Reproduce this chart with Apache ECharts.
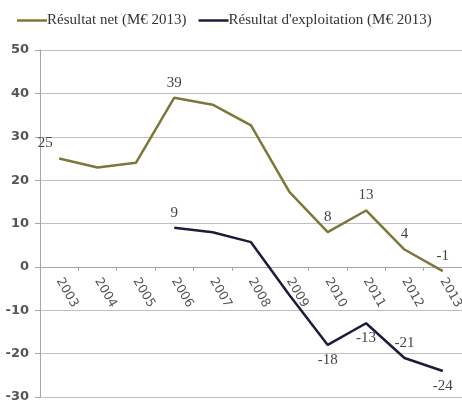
<!DOCTYPE html>
<html>
<head>
<meta charset="utf-8">
<script src="https://cdn.jsdelivr.net/npm/echarts@6/dist/echarts.min.js"></script>
<style>
  html, body { margin: 0; padding: 0; background: #fff; }
  #chart { width: 462px; height: 404px; }
</style>
</head>
<body>
<div id="chart"></div>
<script>
// Years on the category axis
var years = ['2003', '2004', '2005', '2006', '2007', '2008', '2009', '2010', '2011', '2012', '2013'];

// Net result, M€ 2013
var netName = 'Résultat net (M€ 2013)';
var netValues = [25, 22.9, 24, 39, 37.4, 32.6, 17.3, 8, 13, 4, -1];
var netLabelled = [0, 3, 7, 8, 9, 10];

// Operating result, M€ 2013 (no data before 2006)
var opName = "Résultat d'exploitation (M€ 2013)";
var opValues = [null, null, null, 9, 8, 5.7, -6.5, -18, -13, -21, -24];
var opLabelled = [3, 7, 8, 9, 10];
var opLabelBelow = [7, 8, 10];

// Value axis ticks
var yMin = -30, yMax = 50, yStep = 10;

var NET_COLOR = '#7e773a';
var OP_COLOR = '#1b1d3a';

var SERIF = '"Liberation Serif", "DejaVu Serif", serif';
var SANS = '"DejaVu Sans", "Liberation Sans", sans-serif';

var W = 462, H = 404;
var gridTop = 50, gridBottom = 7;
var plotH = H - gridTop - gridBottom;
// raise the category axis so that it sits on the zero line
var zeroOffset = -plotH * (0 - yMin) / (yMax - yMin);

function toItems(values, labelled, below) {
  return values.map(function (v, i) {
    if (labelled.indexOf(i) < 0) return v;
    var label = {
      show: true,
      position: below && below.indexOf(i) >= 0 ? 'bottom' : 'top',
      distance: 7
    };
    // first label sits a little to the left of its point
    if (i === 0) label.offset = [-14, 0];
    return { value: v, label: label };
  });
}

var chart = echarts.init(document.getElementById('chart'), null, { renderer: 'canvas' });
chart.setOption({
  animation: false,
  backgroundColor: '#ffffff',
  legend: {
    left: 12,
    top: 8,
    itemWidth: 30,
    itemHeight: 10,
    itemGap: 12,
    icon: 'path://M0,4 L30,4 L30,6.5 L0,6.5 Z',
    textStyle: { fontFamily: SERIF, fontSize: 15, color: '#333', padding: [0, 0, 0, -5] },
    data: [
      { name: netName, itemStyle: { color: NET_COLOR, opacity: 1 } },
      { name: opName, itemStyle: { color: OP_COLOR, opacity: 1 } }
    ]
  },
  grid: { left: 40, right: 0, top: gridTop, bottom: gridBottom, containLabel: false, outerBoundsMode: 'none' },
  xAxis: {
    type: 'category',
    data: years,
    boundaryGap: true,
    offset: zeroOffset,
    axisLine: { onZero: false, lineStyle: { color: '#a6a6a6', width: 1 } },
    axisTick: { show: true, length: 4, lineStyle: { color: '#a6a6a6' } },
    axisLabel: {
      rotate: -60,
      margin: 12,
      fontFamily: SANS,
      fontSize: 12.5,
      color: '#555'
    },
    splitLine: { show: false }
  },
  yAxis: {
    type: 'value',
    min: yMin,
    max: yMax,
    interval: yStep,
    axisLine: { show: true, lineStyle: { color: '#a6a6a6' } },
    axisTick: { show: true, length: 5, lineStyle: { color: '#a6a6a6' } },
    axisLabel: {
      fontFamily: SANS,
      fontSize: 13,
      fontWeight: 'bold',
      color: '#555',
      margin: 11
    },
    splitLine: { show: true, lineStyle: { color: '#bfbfbf', width: 1 } }
  },
  series: [
    {
      name: netName,
      type: 'line',
      data: toItems(netValues, netLabelled),
      symbol: 'circle',
      symbolSize: 1,
      showSymbol: true,
      lineStyle: { color: NET_COLOR, width: 2.5 },
      itemStyle: { color: 'rgba(0,0,0,0)', borderWidth: 0 },
      label: { fontFamily: SERIF, fontSize: 15, color: '#444' }
    },
    {
      name: opName,
      type: 'line',
      data: toItems(opValues, opLabelled, opLabelBelow),
      symbol: 'circle',
      symbolSize: 1,
      showSymbol: true,
      lineStyle: { color: OP_COLOR, width: 2.5 },
      itemStyle: { color: 'rgba(0,0,0,0)', borderWidth: 0 },
      label: { fontFamily: SERIF, fontSize: 15, color: '#444' }
    }
  ]
});
</script>
</body>
</html>
